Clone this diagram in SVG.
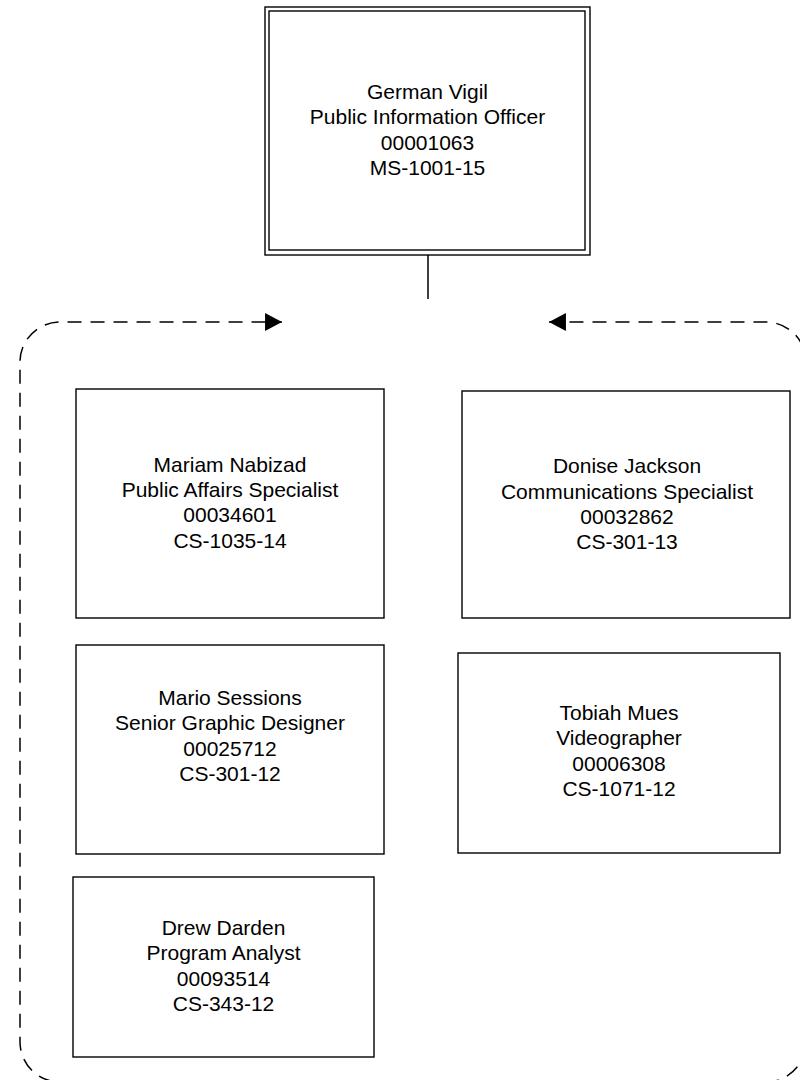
<svg xmlns="http://www.w3.org/2000/svg" width="800" height="1080" viewBox="0 0 800 1080">
  <style>
    .box { fill: #ffffff; stroke: #000000; stroke-width: 1.4; }
    .lbl { font-family: "Liberation Sans", Arial, sans-serif; font-size: 21px; fill: #000000; text-anchor: middle; }
    .dash { fill: none; stroke: #000000; stroke-width: 1.5; stroke-dasharray: 14 9; }
    .solid { fill: none; stroke: #000000; stroke-width: 1.5; }
  </style>
  <defs>
    <marker id="arrow" markerUnits="userSpaceOnUse" markerWidth="18" markerHeight="18" viewBox="0 0 16 17" refX="16" refY="8.5" orient="auto">
      <path d="M0,0 L16,8.5 L0,17 Z" fill="#000000"/>
    </marker>
  </defs>
  <rect width="800" height="1080" fill="#ffffff"/>

  <g id="connectors">
    <line class="solid" x1="428" y1="255" x2="428" y2="299"/>
    <path class="dash" d="M 420 1082 H 60 A 40 40 0 0 1 20 1042 V 362 A 40 40 0 0 1 60 322 H 282" marker-end="url(#arrow)"/>
    <path class="dash" d="M 420 1082 H 766 A 40 40 0 0 0 806 1042 V 362 A 40 40 0 0 0 766 322 H 549" marker-end="url(#arrow)"/>
  </g>

  <g id="node-german-vigil">
    <rect class="box" x="265" y="7" width="325" height="248"/>
    <rect class="box" x="269" y="11" width="316" height="239"/>
    <text class="lbl" x="427.5" y="99">German Vigil</text>
    <text class="lbl" x="427.5" y="124.3">Public Information Officer</text>
    <text class="lbl" x="427.5" y="149.6">00001063</text>
    <text class="lbl" x="427.5" y="174.9">MS-1001-15</text>
  </g>

  <g id="node-mariam-nabizad">
    <rect class="box" x="76" y="389" width="308" height="229"/>
    <text class="lbl" x="230" y="471.7">Mariam Nabizad</text>
    <text class="lbl" x="230" y="497">Public Affairs Specialist</text>
    <text class="lbl" x="230" y="522.3">00034601</text>
    <text class="lbl" x="230" y="547.6">CS-1035-14</text>
  </g>

  <g id="node-donise-jackson">
    <rect class="box" x="462" y="391" width="328" height="227"/>
    <text class="lbl" x="627" y="473.3">Donise Jackson</text>
    <text class="lbl" x="627" y="498.6">Communications Specialist</text>
    <text class="lbl" x="627" y="523.9">00032862</text>
    <text class="lbl" x="627" y="549.2">CS-301-13</text>
  </g>

  <g id="node-mario-sessions">
    <rect class="box" x="76" y="645" width="308" height="209"/>
    <text class="lbl" x="230" y="705">Mario Sessions</text>
    <text class="lbl" x="230" y="730.3">Senior Graphic Designer</text>
    <text class="lbl" x="230" y="755.6">00025712</text>
    <text class="lbl" x="230" y="780.9">CS-301-12</text>
  </g>

  <g id="node-tobiah-mues">
    <rect class="box" x="458" y="653" width="322" height="200"/>
    <text class="lbl" x="619" y="720">Tobiah Mues</text>
    <text class="lbl" x="619" y="745.3">Videographer</text>
    <text class="lbl" x="619" y="770.6">00006308</text>
    <text class="lbl" x="619" y="795.9">CS-1071-12</text>
  </g>

  <g id="node-drew-darden">
    <rect class="box" x="73" y="877" width="301" height="180"/>
    <text class="lbl" x="223.5" y="935">Drew Darden</text>
    <text class="lbl" x="223.5" y="960.3">Program Analyst</text>
    <text class="lbl" x="223.5" y="985.6">00093514</text>
    <text class="lbl" x="223.5" y="1010.9">CS-343-12</text>
  </g>
</svg>
